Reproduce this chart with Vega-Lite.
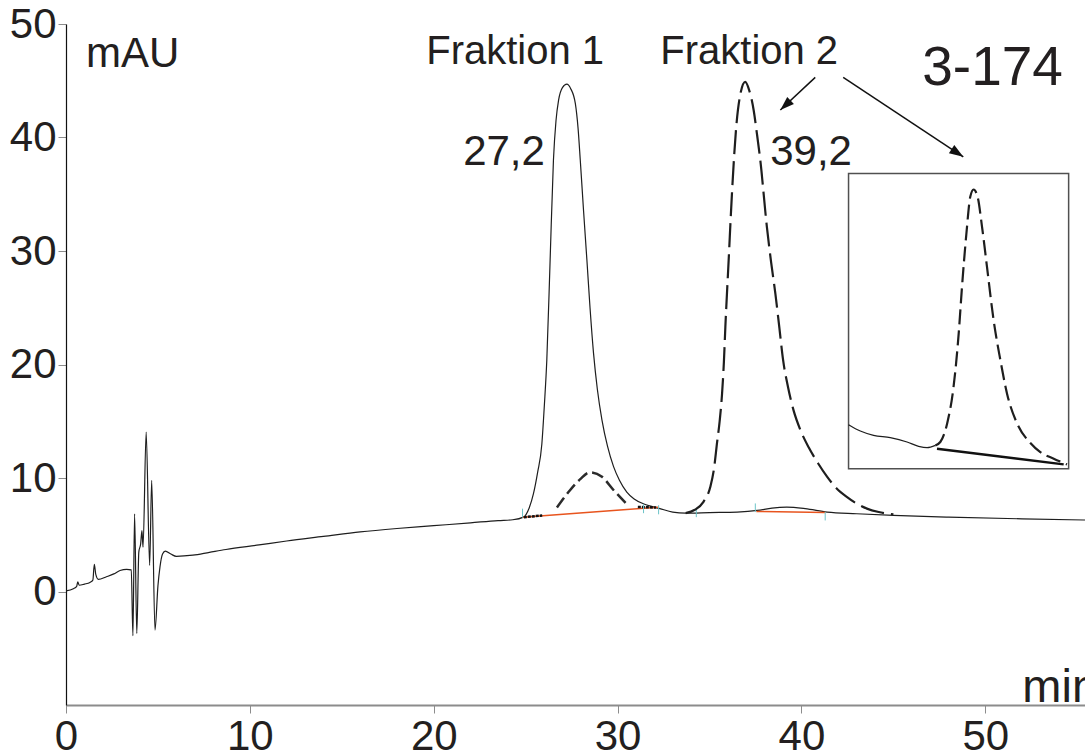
{
  "$schema": "https://vega.github.io/schema/vega-lite/v6.json",
  "width": 1019,
  "height": 681,
  "autosize": {"type": "none"},
  "padding": {"left": 66, "top": 24, "right": 0, "bottom": 50},
  "background": "white",
  "config": {
    "view": {"stroke": null},
    "axis": {"grid": false, "title": null, "labelFont": "Liberation Sans", "labelColor": "#231f20", "tickColor": "#8c8c8c", "tickSize": 8, "tickWidth": 1}
  },
  "datasets": {
    "trace": [
      {"t":0,"v":0.05},{"t":0.4,"v":0.25},{"t":0.58,"v":0.45},{"t":0.64,"v":0.85},{"t":0.72,"v":0.55},{"t":1.0,"v":0.65},{"t":1.3,"v":0.8},{"t":1.46,"v":1.0},{"t":1.54,"v":2.4},{"t":1.62,"v":1.5},{"t":1.76,"v":1.06},{"t":2.2,"v":1.3},{"t":2.6,"v":1.55},{"t":2.94,"v":1.85},{"t":3.3,"v":1.95},{"t":3.55,"v":1.9},{"t":3.64,"v":-3.9},{"t":3.73,"v":6.85},{"t":3.85,"v":-3.7},{"t":3.96,"v":3.47},{"t":4.06,"v":4.2},{"t":4.13,"v":5.37},{"t":4.19,"v":3.9},{"t":4.36,"v":14.05},{"t":4.55,"v":2.3},{"t":4.66,"v":9.8},{"t":4.84,"v":-3.4},{"t":5.0,"v":0.5},{"t":5.11,"v":2.15},{"t":5.25,"v":3.3},{"t":5.4,"v":3.55},{"t":5.7,"v":3.3},{"t":6.0,"v":3.1},{"t":6.9,"v":3.2},{"t":7.8,"v":3.45},{"t":8.7,"v":3.7},{"t":10.5,"v":4.1},{"t":12,"v":4.45},{"t":14,"v":4.85},{"t":16,"v":5.25},{"t":18,"v":5.55},{"t":20,"v":5.8},{"t":22,"v":6.05},{"t":23.5,"v":6.25},{"t":24.3,"v":6.32},{"t":24.88,"v":6.55},{"t":25.2,"v":7.4},{"t":25.42,"v":8.6},{"t":25.65,"v":10.5},{"t":25.88,"v":13.0},{"t":26.02,"v":16.5},{"t":26.15,"v":20.4},{"t":26.33,"v":29.2},{"t":26.51,"v":38.0},{"t":26.65,"v":41.5},{"t":26.79,"v":43.3},{"t":27.0,"v":44.4},{"t":27.24,"v":44.7},{"t":27.45,"v":44.3},{"t":27.7,"v":43.0},{"t":27.85,"v":40.8},{"t":27.97,"v":38.0},{"t":28.15,"v":33.5},{"t":28.33,"v":29.2},{"t":28.5,"v":25.0},{"t":28.69,"v":21.0},{"t":28.9,"v":17.8},{"t":29.15,"v":15.1},{"t":29.45,"v":12.8},{"t":29.78,"v":11.0},{"t":30.1,"v":9.8},{"t":30.5,"v":8.76},{"t":30.9,"v":8.15},{"t":31.4,"v":7.73},{"t":31.85,"v":7.5},{"t":32.3,"v":7.3},{"t":33.0,"v":7.0},{"t":33.7,"v":6.9},{"t":35.0,"v":6.95},{"t":36.5,"v":7.0},{"t":37.6,"v":7.14},{"t":38.4,"v":7.35},{"t":39.2,"v":7.43},{"t":40.2,"v":7.3},{"t":41.4,"v":7.0},{"t":43.0,"v":6.85},{"t":45.0,"v":6.7},{"t":48,"v":6.55},{"t":52,"v":6.4},{"t":55.42,"v":6.3}
    ],
    "sub1": [
      {"t":26.7,"v":7.4},{"t":27.4,"v":8.9},{"t":27.97,"v":9.9},{"t":28.5,"v":10.5},{"t":29.15,"v":10.1},{"t":29.8,"v":8.9},{"t":30.5,"v":7.7}
    ],
    "peak2": [
      {"t":33.7,"v":6.9},{"t":34.2,"v":7.2},{"t":34.67,"v":7.9},{"t":35.04,"v":9.2},{"t":35.25,"v":10.9},{"t":35.4,"v":13.0},{"t":35.55,"v":15.0},{"t":35.68,"v":17.4},{"t":35.78,"v":20.2},{"t":35.86,"v":23.3},{"t":36.04,"v":29.2},{"t":36.22,"v":35.1},{"t":36.45,"v":40.9},{"t":36.7,"v":44.0},{"t":36.94,"v":44.9},{"t":37.15,"v":44.2},{"t":37.4,"v":42.4},{"t":37.58,"v":40.3},{"t":37.76,"v":38.0},{"t":38.12,"v":32.1},{"t":38.35,"v":29.0},{"t":38.58,"v":26.25},{"t":38.8,"v":23.2},{"t":39.0,"v":20.4},{"t":39.27,"v":18.0},{"t":39.57,"v":15.96},{"t":39.95,"v":14.2},{"t":40.39,"v":12.7},{"t":40.9,"v":11.3},{"t":41.4,"v":10.1},{"t":41.9,"v":9.1},{"t":42.5,"v":8.3},{"t":43.0,"v":7.75},{"t":43.56,"v":7.3},{"t":44.2,"v":7.0},{"t":45.0,"v":6.8}
    ],
    "baselines": [
      {"t":24.85,"v":6.55,"t2":32.2,"v2":7.43},
      {"t":37.55,"v":7.05,"t2":41.3,"v2":6.95}
    ],
    "marks": [
      {"t":24.9,"v":6.55,"t2":25.9,"v2":6.7},
      {"t":31.1,"v":7.45,"t2":32.1,"v2":7.4}
    ],
    "ticks": [
      {"t":24.83,"v":6.5,"v2":7.3},
      {"t":31.41,"v":6.9,"v2":7.7},
      {"t":32.23,"v":6.8,"v2":7.6},
      {"t":34.28,"v":6.55,"v2":7.3},
      {"t":37.49,"v":7.0,"v2":7.76},
      {"t":41.29,"v":6.26,"v2":7.0}
    ],
    "insetbox": [
      {"t":42.56,"v":36.83,"t2":54.53,"v2":10.82}
    ],
    "insetsolid": [
      {"t":42.56,"v":14.7},{"t":43.2,"v":14.14},{"t":43.92,"v":13.76},{"t":44.83,"v":13.55},{"t":45.74,"v":13.17},{"t":46.37,"v":12.79},{"t":46.83,"v":12.67},{"t":47.28,"v":12.87}
    ],
    "insetdash": [
      {"t":47.28,"v":12.87},{"t":47.55,"v":13.17},{"t":47.92,"v":14.79},{"t":48.27,"v":18.02},{"t":48.55,"v":22.72},{"t":48.73,"v":26.83},{"t":48.97,"v":31.54},{"t":49.18,"v":34.77},{"t":49.36,"v":35.42},{"t":49.58,"v":34.77},{"t":49.82,"v":32.13},{"t":50.09,"v":28.6},{"t":50.45,"v":23.9},{"t":50.82,"v":20.37},{"t":51.18,"v":17.43},{"t":51.73,"v":14.79},{"t":52.45,"v":13.08},{"t":52.99,"v":12.28},{"t":53.72,"v":11.7},{"t":54.44,"v":11.2}
    ],
    "insetbase": [
      {"t":47.37,"v":12.58,"t2":54.26,"v2":11.2}
    ],
    "arrows": [
      {"id":1,"t":40.75,"v":45.3,"t2":38.85,"v2":42.42},
      {"id":2,"t":42.27,"v":45.3,"t2":48.8,"v2":38.3}
    ],
    "txtA": [
      {"label":"Fraktion 1","t":19.59,"v":46.47},
      {"label":"Fraktion 2","t":32.32,"v":46.47}
    ],
    "txtB": [
      {"label":"27,2","t":21.6,"v":37.57},
      {"label":"39,2","t":38.3,"v":37.57},
      {"label":"mAU","t":1.09,"v":46.2}
    ],
    "txtC": [
      {"label":"3-174","t":46.57,"v":44.62}
    ],
    "txtD": [
      {"label":"min","t":52.01,"v":-9.76}
    ]
  },
  "encoding": {
    "x": {"field": "t", "type": "quantitative", "scale": {"domain": [0, 55.42], "nice": false, "zero": false}},
    "y": {"field": "v", "type": "quantitative", "scale": {"domain": [-10, 50], "nice": false, "zero": false}}
  },
  "layer": [
    {
      "data": {"name": "trace"},
      "mark": {"type": "line", "color": "#1e1e1e", "strokeWidth": 1.2, "interpolate": "monotone"},
      "encoding": {
        "x": {"field": "t", "type": "quantitative", "scale": {"domain": [0, 55.42], "nice": false, "zero": false},
          "axis": {"values": [0,10,20,30,40,50], "domainColor": "#8c8c8c", "domainWidth": 2, "labelFontSize": 42, "labelPadding": 3, "labelFlush": false, "labelOverlap": false}},
        "y": {"field": "v", "type": "quantitative", "scale": {"domain": [-10, 50], "nice": false, "zero": false},
          "axis": {"values": [0,10,20,30,40,50], "domainColor": "#111111", "domainWidth": 1.2, "labelFontSize": 42, "labelPadding": 2, "labelBaseline": "middle", "labelFlush": false, "labelOverlap": false}}
      }
    },
    {
      "data": {"values": [{}]},
      "mark": {"type": "rule", "color": "#8c8c8c", "strokeWidth": 2},
      "encoding": {"x": {"datum": 0}, "x2": {"datum": 55.42}, "y": {"datum": 50}}
    },
    {
      "data": {"name": "baselines"},
      "mark": {"type": "rule", "color": "#e8541e", "strokeWidth": 1.5},
      "encoding": {"x2": {"field": "t2"}, "y2": {"field": "v2"}}
    },
    {
      "data": {"name": "marks"},
      "mark": {"type": "rule", "color": "#111111", "strokeWidth": 2.5, "strokeDash": [3, 1]},
      "encoding": {"x2": {"field": "t2"}, "y2": {"field": "v2"}}
    },
    {
      "data": {"name": "ticks"},
      "mark": {"type": "rule", "color": "#6cc4c8", "strokeWidth": 1},
      "encoding": {"y2": {"field": "v2"}}
    },
    {
      "data": {"name": "sub1"},
      "mark": {"type": "line", "color": "#2b2b2b", "strokeWidth": 2.5, "strokeDash": [12, 5], "interpolate": "monotone"}
    },
    {
      "data": {"name": "peak2"},
      "mark": {"type": "line", "color": "#1e1e1e", "strokeWidth": 2.2, "strokeDash": [24, 7], "interpolate": "monotone"}
    },
    {
      "data": {"name": "insetbox"},
      "mark": {"type": "rect", "fill": "white", "stroke": "#505050", "strokeWidth": 1.5},
      "encoding": {"x2": {"field": "t2"}, "y2": {"field": "v2"}}
    },
    {
      "data": {"name": "insetsolid"},
      "mark": {"type": "line", "color": "#1e1e1e", "strokeWidth": 1.2, "interpolate": "monotone"}
    },
    {
      "data": {"name": "insetdash"},
      "mark": {"type": "line", "color": "#1e1e1e", "strokeWidth": 2.2, "strokeDash": [15, 6], "interpolate": "monotone"}
    },
    {
      "data": {"name": "insetbase"},
      "mark": {"type": "rule", "color": "#111111", "strokeWidth": 2.5},
      "encoding": {"x2": {"field": "t2"}, "y2": {"field": "v2"}}
    },
    {
      "data": {"name": "arrows"},
      "mark": {"type": "rule", "color": "#111111", "strokeWidth": 1.5},
      "encoding": {"x2": {"field": "t2"}, "y2": {"field": "v2"}}
    },
    {
      "data": {"name": "arrows"},
      "transform": [{"filter": "datum.id == 1"}],
      "mark": {"type": "point", "shape": "M0,0L0.7,2L-0.7,2Z", "size": 196, "filled": true, "color": "#111111", "opacity": 1, "angle": 227},
      "encoding": {"x": {"field": "t2", "type": "quantitative"}, "y": {"field": "v2", "type": "quantitative"}}
    },
    {
      "data": {"name": "arrows"},
      "transform": [{"filter": "datum.id == 2"}],
      "mark": {"type": "point", "shape": "M0,0L0.7,2L-0.7,2Z", "size": 196, "filled": true, "color": "#111111", "opacity": 1, "angle": 123.5},
      "encoding": {"x": {"field": "t2", "type": "quantitative"}, "y": {"field": "v2", "type": "quantitative"}}
    },
    {
      "data": {"name": "txtA"},
      "mark": {"type": "text", "font": "Liberation Sans", "fontSize": 40, "align": "left", "baseline": "alphabetic", "color": "#231f20"},
      "encoding": {"text": {"field": "label"}}
    },
    {
      "data": {"name": "txtB"},
      "mark": {"type": "text", "font": "Liberation Sans", "fontSize": 42, "align": "left", "baseline": "alphabetic", "color": "#231f20"},
      "encoding": {"text": {"field": "label"}}
    },
    {
      "data": {"name": "txtC"},
      "mark": {"type": "text", "font": "Liberation Sans", "fontSize": 55, "align": "left", "baseline": "alphabetic", "color": "#231f20"},
      "encoding": {"text": {"field": "label"}}
    },
    {
      "data": {"name": "txtD"},
      "mark": {"type": "text", "font": "Liberation Sans", "fontSize": 47, "align": "left", "baseline": "alphabetic", "color": "#231f20"},
      "encoding": {"text": {"field": "label"}}
    }
  ]
}
